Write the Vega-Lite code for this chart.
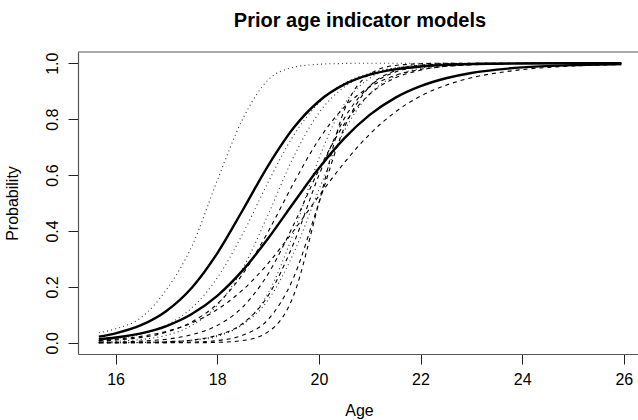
{
  "$schema": "https://vega.github.io/schema/vega-lite/v6.json",
  "width": 560,
  "height": 302,
  "autosize": {"type": "none"},
  "padding": {"left": 78, "top": 52, "right": 0, "bottom": 66},
  "background": "white",
  "config": {
    "view": {"stroke": null},
    "font": "Liberation Sans",
    "axis": {"grid": false, "tickSize": 10, "tickColor": "#222", "tickWidth": 1, "labelFontSize": 16, "labelColor": "black", "labelOverlap": false, "labelFlush": false, "domainColor": "#555", "domainWidth": 1.2, "titleFontSize": 16, "titleFontWeight": "normal", "titleColor": "black"},
    "axisX": {"labelPadding": 7, "titleX": 281, "titleY": 61, "titleBaseline": "alphabetic", "titleAlign": "center"},
    "axisY": {"labelAngle": 270, "labelAlign": "center", "labelBaseline": "alphabetic", "labelPadding": 11, "titleAngle": 270, "titleX": -61, "titleY": 151, "titleBaseline": "alphabetic", "titleAlign": "center"}
  },
  "title": {"text": "Prior age indicator models", "fontSize": 20, "fontWeight": "bold", "font": "Liberation Sans", "color": "black", "anchor": "middle", "offset": 20, "dx": 2},
  "datasets": {
    "curves": [
      {"x": 15.67, "A": 0.022, "B": 0.0125, "D1": 0.036, "D2": 0.009, "D3": 0.003, "D4": 0.0001, "D5": 0.0003, "S1": 0.006, "S2": 0.0003, "S3": 0.0, "S4": 0.008, "S5": 0.0, "S6": 0.0016},
      {"x": 16, "A": 0.034, "B": 0.019, "D1": 0.05, "D2": 0.015, "D3": 0.005, "D4": 0.0003, "D5": 0.0006, "S1": 0.010, "S2": 0.0005, "S3": 0.0001, "S4": 0.013, "S5": 0.0, "S6": 0.0027},
      {"x": 16.5, "A": 0.063, "B": 0.034, "D1": 0.09, "D2": 0.031, "D3": 0.012, "D4": 0.0009, "D5": 0.0016, "S1": 0.019, "S2": 0.0014, "S3": 0.0002, "S4": 0.023, "S5": 0.0, "S6": 0.0059},
      {"x": 17, "A": 0.114, "B": 0.060, "D1": 0.19, "D2": 0.063, "D3": 0.027, "D4": 0.0026, "D5": 0.004, "S1": 0.038, "S2": 0.0037, "S3": 0.0007, "S4": 0.041, "S5": 0.0001, "S6": 0.013},
      {"x": 17.5, "A": 0.197, "B": 0.103, "D1": 0.345, "D2": 0.125, "D3": 0.062, "D4": 0.0078, "D5": 0.010, "S1": 0.075, "S2": 0.0099, "S3": 0.0025, "S4": 0.071, "S5": 0.0003, "S6": 0.029},
      {"x": 18, "A": 0.320, "B": 0.168, "D1": 0.58, "D2": 0.232, "D3": 0.134, "D4": 0.023, "D5": 0.026, "S1": 0.139, "S2": 0.027, "S3": 0.008, "S4": 0.119, "S5": 0.0017, "S6": 0.062},
      {"x": 18.5, "A": 0.474, "B": 0.259, "D1": 0.8, "D2": 0.389, "D3": 0.265, "D4": 0.067, "D5": 0.065, "S1": 0.246, "S2": 0.069, "S3": 0.027, "S4": 0.189, "S5": 0.008, "S6": 0.128},
      {"x": 19, "A": 0.633, "B": 0.373, "D1": 0.94, "D2": 0.574, "D3": 0.458, "D4": 0.177, "D5": 0.153, "S1": 0.397, "S2": 0.168, "S3": 0.083, "S4": 0.284, "S5": 0.039, "S6": 0.246},
      {"x": 19.5, "A": 0.768, "B": 0.5, "D1": 0.985, "D2": 0.741, "D3": 0.664, "D4": 0.392, "D5": 0.319, "S1": 0.570, "S2": 0.354, "S3": 0.232, "S4": 0.400, "S5": 0.168, "S6": 0.421},
      {"x": 20, "A": 0.864, "B": 0.624, "D1": 0.996, "D2": 0.858, "D3": 0.822, "D4": 0.659, "D5": 0.547, "S1": 0.727, "S2": 0.599, "S3": 0.5, "S4": 0.525, "S5": 0.5, "S6": 0.618},
      {"x": 20.5, "A": 0.924, "B": 0.731, "D1": 0.999, "D2": 0.928, "D3": 0.915, "D4": 0.853, "D5": 0.758, "S1": 0.843, "S2": 0.802, "S3": 0.769, "S4": 0.644, "S5": 0.832, "S6": 0.782},
      {"x": 21, "A": 0.959, "B": 0.815, "D1": 1.0, "D2": 0.964, "D3": 0.962, "D4": 0.946, "D5": 0.890, "S1": 0.915, "S2": 0.917, "S3": 0.917, "S4": 0.746, "S5": 0.961, "S6": 0.889},
      {"x": 21.5, "A": 0.978, "B": 0.876, "D1": 1.0, "D2": 0.983, "D3": 0.983, "D4": 0.981, "D5": 0.954, "S1": 0.956, "S2": 0.968, "S3": 0.973, "S4": 0.825, "S5": 0.992, "S6": 0.947},
      {"x": 22, "A": 0.988, "B": 0.918, "D1": 1.0, "D2": 0.992, "D3": 0.993, "D4": 0.994, "D5": 0.982, "S1": 0.978, "S2": 0.988, "S3": 0.992, "S4": 0.882, "S5": 0.998, "S6": 0.975},
      {"x": 22.5, "A": 0.994, "B": 0.946, "D1": 1.0, "D2": 0.996, "D3": 0.997, "D4": 0.998, "D5": 0.993, "S1": 0.989, "S2": 0.996, "S3": 0.998, "S4": 0.921, "S5": 1.0, "S6": 0.989},
      {"x": 23, "A": 0.997, "B": 0.965, "D1": 1.0, "D2": 0.998, "D3": 0.999, "D4": 0.999, "D5": 0.997, "S1": 0.994, "S2": 0.998, "S3": 0.999, "S4": 0.948, "S5": 1.0, "S6": 0.995},
      {"x": 23.5, "A": 0.998, "B": 0.977, "D1": 1.0, "D2": 0.999, "D3": 1.0, "D4": 1.0, "D5": 0.999, "S1": 0.997, "S2": 0.999, "S3": 1.0, "S4": 0.965, "S5": 1.0, "S6": 0.998},
      {"x": 24, "A": 0.999, "B": 0.985, "D1": 1.0, "D2": 1.0, "D3": 1.0, "D4": 1.0, "D5": 1.0, "S1": 0.999, "S2": 1.0, "S3": 1.0, "S4": 0.977, "S5": 1.0, "S6": 0.999},
      {"x": 25, "A": 1.0, "B": 0.993, "D1": 1.0, "D2": 1.0, "D3": 1.0, "D4": 1.0, "D5": 1.0, "S1": 1.0, "S2": 1.0, "S3": 1.0, "S4": 0.990, "S5": 1.0, "S6": 1.0},
      {"x": 25.95, "A": 1.0, "B": 0.997, "D1": 1.0, "D2": 1.0, "D3": 1.0, "D4": 1.0, "D5": 1.0, "S1": 1.0, "S2": 1.0, "S3": 1.0, "S4": 0.995, "S5": 1.0, "S6": 1.0}
    ],
    "frame": [{"top": 1.04}]
  },
  "layer": [
    {
      "data": {"name": "curves"},
      "transform": [{"fold": ["D1", "D2", "D3", "D4", "D5"], "as": ["curve", "p"]}],
      "mark": {"type": "line", "color": "#333", "strokeWidth": 1.1, "strokeDash": [1, 3.2], "interpolate": "monotone"},
      "encoding": {
        "x": {"field": "x", "type": "quantitative", "scale": {"domain": [15.26, 26.28], "nice": false, "zero": false}, "axis": {"values": [16, 18, 20, 22, 24, 26], "title": "Age", "orient": "bottom"}},
        "y": {"field": "p", "type": "quantitative", "scale": {"domain": [-0.04, 1.04], "nice": false, "zero": false}, "axis": {"values": [0, 0.2, 0.4, 0.6, 0.8, 1], "format": ".1f", "title": "Probability", "orient": "left"}},
        "detail": {"field": "curve"}
      }
    },
    {
      "data": {"name": "curves"},
      "transform": [{"fold": ["S1", "S2", "S3", "S4", "S5", "S6"], "as": ["curve", "p"]}],
      "mark": {"type": "line", "color": "black", "strokeWidth": 1.1, "strokeDash": [4, 4], "interpolate": "monotone"},
      "encoding": {
        "x": {"field": "x", "type": "quantitative", "scale": {"domain": [15.26, 26.28], "nice": false, "zero": false}, "axis": {"values": [16, 18, 20, 22, 24, 26], "title": "Age", "orient": "bottom"}},
        "y": {"field": "p", "type": "quantitative", "scale": {"domain": [-0.04, 1.04], "nice": false, "zero": false}, "axis": {"values": [0, 0.2, 0.4, 0.6, 0.8, 1], "format": ".1f", "title": "Probability", "orient": "left"}},
        "detail": {"field": "curve"}
      }
    },
    {
      "data": {"name": "curves"},
      "transform": [{"fold": ["A", "B"], "as": ["curve", "p"]}],
      "mark": {"type": "line", "color": "black", "strokeWidth": 2.4, "interpolate": "monotone"},
      "encoding": {
        "x": {"field": "x", "type": "quantitative", "scale": {"domain": [15.26, 26.28], "nice": false, "zero": false}, "axis": {"values": [16, 18, 20, 22, 24, 26], "title": "Age", "orient": "bottom"}},
        "y": {"field": "p", "type": "quantitative", "scale": {"domain": [-0.04, 1.04], "nice": false, "zero": false}, "axis": {"values": [0, 0.2, 0.4, 0.6, 0.8, 1], "format": ".1f", "title": "Probability", "orient": "left"}},
        "detail": {"field": "curve"}
      }
    },
    {
      "data": {"name": "frame"},
      "mark": {"type": "rule", "color": "#555", "strokeWidth": 1.2},
      "encoding": {
        "y": {"field": "top", "type": "quantitative", "scale": {"domain": [-0.04, 1.04], "nice": false, "zero": false}, "axis": {"values": [0, 0.2, 0.4, 0.6, 0.8, 1], "format": ".1f", "title": "Probability", "orient": "left"}}
      }
    }
  ]
}
